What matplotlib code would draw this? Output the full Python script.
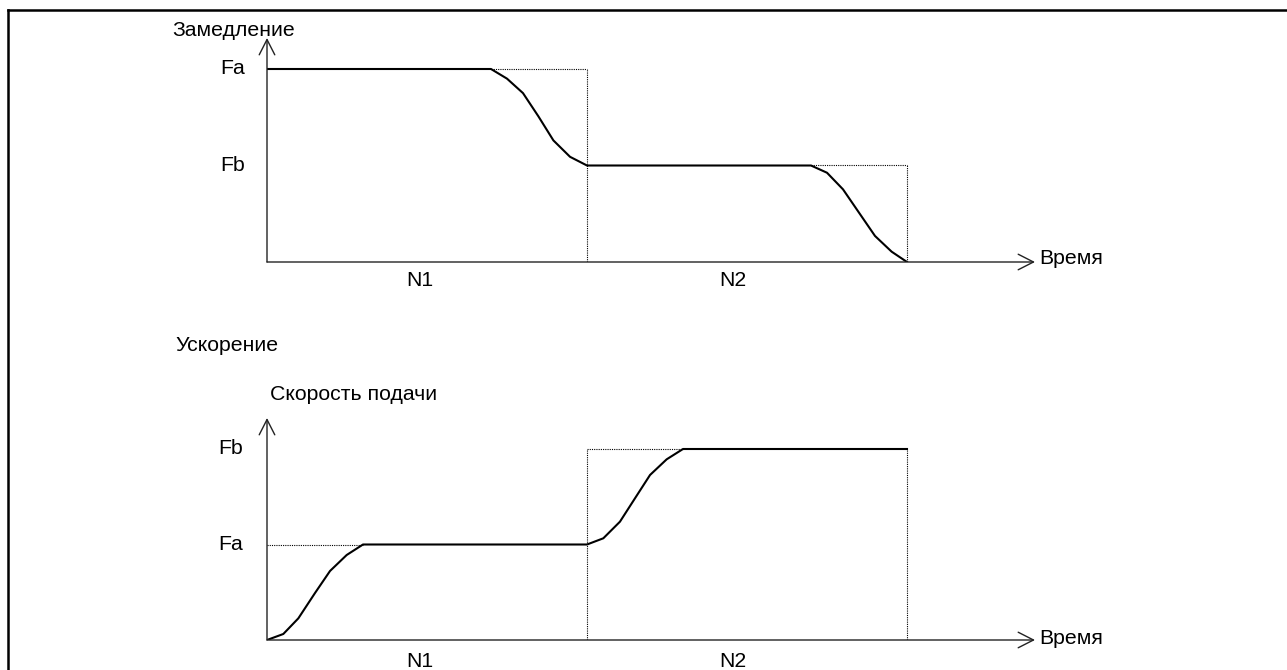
import matplotlib.pyplot as plt
from matplotlib.lines import Line2D

plt.rcParams['font.family'] = ['Liberation Sans', 'DejaVu Sans']

# --------------------------------------------------------------
# Data: feed rate vs. time, time measured in blocks (N1 = 0..1, N2 = 1..2)
# --------------------------------------------------------------
block_labels = ['N1', 'N2']
block_ends = [1.0, 2.0]

# deceleration (Fa > Fb)
dec_fa, dec_fb = 2.0, 1.0
dec_t = [0.0, 0.70, 0.75, 0.80, 0.848, 0.895, 0.947, 1.0,
         1.70, 1.75, 1.80, 1.848, 1.90, 1.952, 2.0]
dec_v = [2.0, 2.0, 1.90, 1.75, 1.51, 1.26, 1.09, 1.0,
         1.0, 0.925, 0.753, 0.521, 0.27, 0.107, 0.0]

# acceleration (Fa < Fb)
acc_fa, acc_fb = 1.0, 2.0
acc_t = [0.0, 0.051, 0.098, 0.15, 0.197, 0.249, 0.30, 1.0,
         1.051, 1.103, 1.15, 1.197, 1.249, 1.30, 2.0]
acc_v = [0.0, 0.063, 0.227, 0.492, 0.723, 0.89, 1.0, 1.0,
         1.065, 1.239, 1.484, 1.728, 1.892, 2.0, 2.0]

W, H = 1287, 670
FS = 15.3
DOT = dict(color='black', lw=0.8, linestyle=(0, (1, 1)))
CURVE = dict(color='black', lw=1.5)


def add_panel(fig, left, top, right, bottom, xmax, ymax):
    # panel placed by pixel box, data: time 0..xmax, feed 0..ymax
    ax = fig.add_axes([left / W, 1 - bottom / H, (right - left) / W, (bottom - top) / H])
    ax.set_xlim(0, xmax)
    ax.set_ylim(0, ymax)
    ax.axis('off')
    arrow = dict(arrowstyle='->,head_length=0.55,head_width=0.28', lw=1.0,
                 color='#222222', shrinkA=0, shrinkB=0, mutation_scale=20)
    ax.annotate('', xy=(xmax, 0), xytext=(0, 0), arrowprops=arrow, annotation_clip=False)
    ax.annotate('', xy=(0, ymax), xytext=(0, 0), arrowprops=arrow, annotation_clip=False)
    return ax


fig = plt.figure(figsize=(W / 100, H / 100), dpi=100)

# outer frame (top and left edges visible)
fig.add_artist(Line2D([8 / W, 8 / W], [0, 1 - 10 / H], transform=fig.transFigure, color='black', lw=1.8))
fig.add_artist(Line2D([8 / W, 1], [1 - 10 / H, 1 - 10 / H], transform=fig.transFigure, color='black', lw=1.8))

# ---------------- deceleration ----------------
ax1 = add_panel(fig, 267, 38, 1035, 262, 2.4, 224 / 96.5)
ax1.plot([dec_t[1], block_ends[0]], [dec_fa, dec_fa], **DOT)
ax1.plot([block_ends[0], block_ends[0]], [0, dec_fa], **DOT)
ax1.plot([dec_t[8], block_ends[1]], [dec_fb, dec_fb], **DOT)
ax1.plot([block_ends[1], block_ends[1]], [0, dec_fb], **DOT)
ax1.plot(dec_t, dec_v, **CURVE)

ax1.text(-0.297, 2.342, 'Замедление', fontsize=FS, ha='left', va='baseline')
ax1.text(-0.069, dec_fa, 'Fa', fontsize=FS, ha='right', va='center')
ax1.text(-0.069, dec_fb, 'Fb', fontsize=FS, ha='right', va='center')
ax1.text(2.4125, -0.021, 'Время', fontsize=FS, ha='left', va='baseline')
for lab, tx in zip(block_labels, [0.478, 1.456]):
    ax1.text(tx, -0.187, lab, fontsize=FS, ha='center', va='center')

# ---------------- acceleration ----------------
ax2 = add_panel(fig, 267, 418, 1035, 640, 2.4, 222 / 95.5)
ax2.plot([0, acc_t[6]], [acc_fa, acc_fa], **DOT)
ax2.plot([block_ends[0], block_ends[0]], [0, acc_fb], **DOT)
ax2.plot([block_ends[0], acc_t[13]], [acc_fb, acc_fb], **DOT)
ax2.plot([block_ends[1], block_ends[1]], [0, acc_fb], **DOT)
ax2.plot(acc_t, acc_v, **CURVE)

ax2.text(-0.2875, 3.026, 'Ускорение', fontsize=FS, ha='left', va='baseline')
ax2.text(0.009, 2.513, 'Скорость подачи', fontsize=FS, ha='left', va='baseline')
ax2.text(-0.075, acc_fb, 'Fb', fontsize=FS, ha='right', va='center')
ax2.text(-0.075, acc_fa, 'Fa', fontsize=FS, ha='right', va='center')
ax2.text(2.4125, -0.042, 'Время', fontsize=FS, ha='left', va='baseline')
for lab, tx in zip(block_labels, [0.478, 1.456]):
    ax2.text(tx, -0.22, lab, fontsize=FS, ha='center', va='center')

fig.savefig('out.png', dpi=100)
